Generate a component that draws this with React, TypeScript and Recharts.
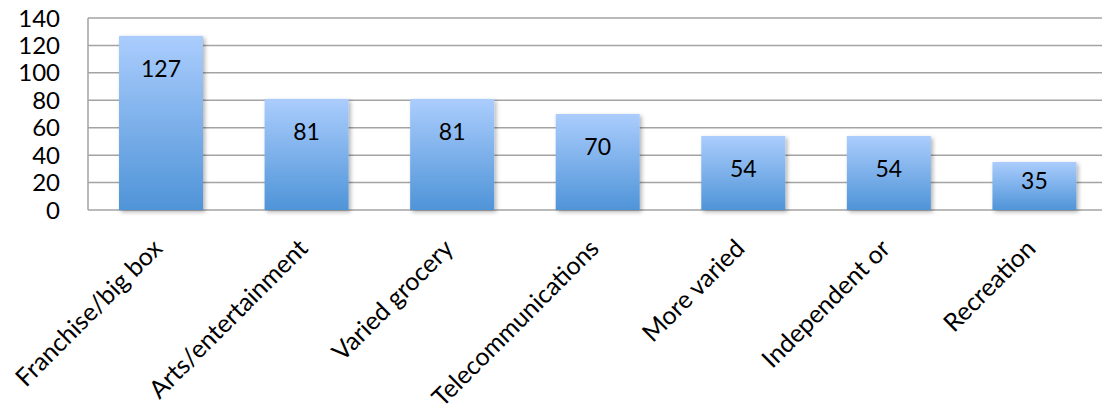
import { BarChart, Bar, XAxis, YAxis, CartesianGrid, LabelList } from 'recharts';

const categories = [
  'Franchise/big box',
  'Arts/entertainment',
  'Varied grocery',
  'Telecommunications',
  'More varied',
  'Independent or',
  'Recreation',
];
const counts = [127, 81, 81, 70, 54, 54, 35];
const yTicks = [0, 20, 40, 60, 80, 100, 120, 140];

const data = categories.map((name, i) => ({ name, count: counts[i] }));

const FONT = 'Lato, "Open Sans", sans-serif';
const GRID = '#a3a3a3';

const XTick = (props: any) => {
  const { x, y, payload } = props;
  const tx = x + 3;
  return (
    <text
      x={tx}
      y={y}
      transform={`rotate(-45, ${tx}, ${y})`}
      textAnchor="end"
      fontFamily={FONT}
      fontSize={25}
      fill="#000"
    >
      {payload.value}
    </text>
  );
};

const BarShape = (props: any) => {
  const { x, y, width, height } = props;
  return (
    <rect
      x={x}
      y={y}
      width={width}
      height={height}
      fill="url(#barGrad)"
      filter="url(#barShadow)"
    />
  );
};

const BarLabel = (props: any) => {
  const { x, y, width, height, value } = props;
  const off = Math.min(32, height - 30);
  return (
    <text
      x={x + width / 2}
      y={y + off}
      textAnchor="middle"
      dominantBaseline="central"
      fontFamily={FONT}
      fontSize={23}
      fill="#000"
    >
      {value}
    </text>
  );
};

const App = () => {
  return (
    <div style={{ position: 'absolute', left: 0, top: 0, background: '#fff' }}>
      <BarChart
        width={1102}
        height={420}
        data={data}
        margin={{ top: 18, right: 0, left: 0, bottom: 0 }}
      >
        <defs>
          <linearGradient id="barGrad" x1="0" y1="0" x2="0" y2="1">
            <stop offset="0%" stopColor="#abcdfd" />
            <stop offset="100%" stopColor="#4f94d8" />
          </linearGradient>
          <filter id="barShadow" x="-20%" y="-20%" width="140%" height="140%">
            <feDropShadow dx="2" dy="2" stdDeviation="2" floodColor="#000" floodOpacity="0.3" />
          </filter>
        </defs>
        <CartesianGrid vertical={false} stroke={GRID} strokeWidth={1.5} />
        <XAxis
          dataKey="name"
          height={210}
          interval={0}
          axisLine={false}
          tickLine={false}
          tickSize={0}
          tickMargin={40}
          padding={{ left: 0, right: -5 }}
          tick={<XTick />}
        />
        <YAxis
          width={88}
          domain={[0, 140]}
          ticks={yTicks}
          interval={0}
          axisLine={{ stroke: GRID, strokeWidth: 1.5 }}
          tickLine={false}
          tickSize={0}
          tickMargin={28}
          tick={{ fontFamily: FONT, fontSize: 24, fill: '#000' }}
        />
        <Bar dataKey="count" barSize={84} shape={<BarShape />} isAnimationActive={false}>
          <LabelList dataKey="count" content={<BarLabel />} />
        </Bar>
      </BarChart>
    </div>
  );
};

export default App;
